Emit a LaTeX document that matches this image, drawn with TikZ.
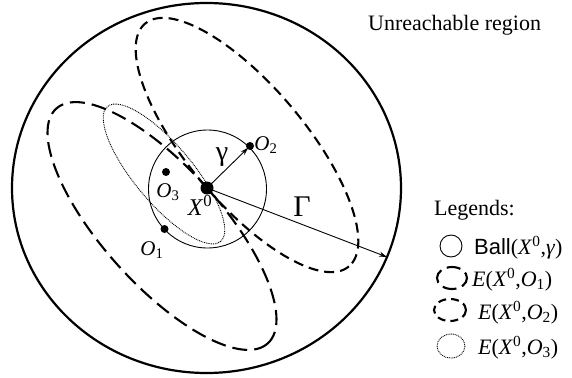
\documentclass[tikz,border=0pt]{standalone}
\usepackage{fontspec}
\setmainfont{Liberation Serif}
\newfontfamily\arialfont{Liberation Sans}
\usetikzlibrary{arrows.meta}
\newcommand\mysup[1]{\textsuperscript{#1}}
\newcommand\mysub[1]{\textsubscript{#1}}
\tikzset{
  bigline/.style={line width=2.2pt},
  thinline/.style={line width=0.9pt},
  eone/.style={line width=2.1pt, dash pattern=on 15pt off 7pt},
  etwo/.style={line width=2.1pt, dash pattern=on 10pt off 6pt},
  ethree/.style={line width=0.9pt, dash pattern=on 0.9pt off 0.9pt},
  dot/.style={circle, fill=black, inner sep=0pt, minimum size=8pt},
  bigdot/.style={circle, fill=black, inner sep=0pt, minimum size=13pt},
  lbl/.style={inner sep=0pt, font=\fontsize{21}{23}\selectfont},
  txt/.style={inner sep=0pt, anchor=base west, font=\fontsize{22}{26}\selectfont},
  arr/.style={thinline, -{Stealth[length=8pt,width=5pt]}}
}
\begin{document}
\begin{tikzpicture}[x=1pt,y=-1pt]
\useasboundingbox (0,0) rectangle (572,377);
% outer region
\draw[bigline] (206.5,188) ellipse [x radius=194.5, y radius=185];
% ellipses
\draw[eone, shift={(162,226)}, rotate=-48] (0,0) ellipse [x radius=158, y radius=59];
\draw[etwo, shift={(247,145)}, rotate=-50] (0,0) ellipse [x radius=158.5, y radius=58.5];
\draw[ethree, shift={(164,174)}, rotate=-50] (0,0) ellipse [x radius=88, y radius=29];
% ball
\draw[thinline] (207.5,189) circle [radius=59];
% points
\coordinate (X0) at (207,188);
\coordinate (O1) at (164.5,229);
\coordinate (O2) at (250,146);
\coordinate (O3) at (166,172);
\coordinate (G) at (387,257);
\draw[arr, shorten >=2.5pt] (X0) -- (O2);
\draw[arr] (X0) -- (G);
\node[bigdot] (x0dot) at (X0) {};
\node[dot] (o1dot) at (O1) {};
\node[dot] (o2dot) at (O2) {};
\node[dot] (o3dot) at (O3) {};
% labels
\node[lbl] (lx0) at (200,205) {\fontsize{24}{26}\selectfont\textit{X}\mysup{0}};
\node[lbl] (lo1) at (152,250) {\textit{O}\mysub{1}};
\node[lbl] (lo2) at (266,145) {\textit{O}\mysub{2}};
\node[lbl] (lo3) at (168,192) {\textit{O}\mysub{3}};
\node[lbl] (lgam) at (222,157) {\fontsize{28}{30}\selectfont γ};
\node[lbl] (lGam) at (302,207) {\fontsize{30}{32}\selectfont Γ};
% title
\node[txt] (unr) at (368,31) {Unreachable region};
% legend
\node[txt] (leg) at (434,215) {Legends:};
\draw[thinline] (451,246) circle [radius=11];
\node[txt] (lball) at (474,254) {{\arialfont Ball}(\textit{X}\mysup{0},\textit{γ})};
\draw[eone, dash pattern=on 14pt off 6pt, dash phase=4pt] (452,278) ellipse [x radius=15, y radius=11];
\node[txt] (le1) at (472,286) {\textit{E}(\textit{X}\mysup{0},\textit{O}\mysub{1})};
\draw[etwo, dash pattern=on 8pt off 5pt] (450,310) ellipse [x radius=16, y radius=11];
\node[txt] (le2) at (478,319) {\textit{E}(\textit{X}\mysup{0},\textit{O}\mysub{2})};
\draw[ethree] (451,346) ellipse [x radius=14, y radius=12];
\node[txt] (le3) at (478,354) {\textit{E}(\textit{X}\mysup{0},\textit{O}\mysub{3})};
\end{tikzpicture}
\end{document}
